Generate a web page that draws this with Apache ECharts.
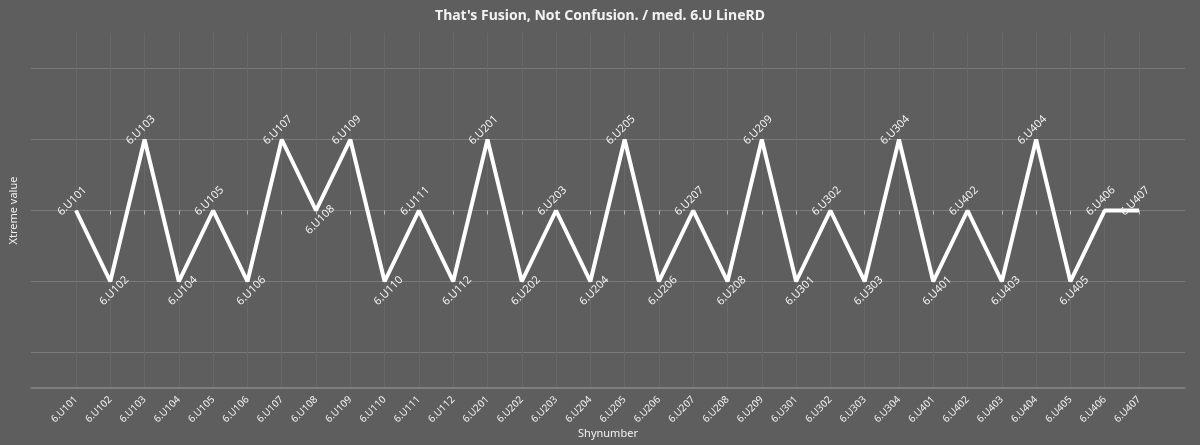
<!DOCTYPE html>
<html><head><meta charset="utf-8">
<script src="https://cdn.jsdelivr.net/npm/echarts@6/dist/echarts.min.js"></script>
<style>html,body{margin:0;background:#5e5e5e}#main{width:1200px;height:445px}</style>
</head><body><div id="main"></div>
<script>
var categories = ['6.U101','6.U102','6.U103','6.U104','6.U105','6.U106','6.U107','6.U108','6.U109','6.U110','6.U111','6.U112',
  '6.U201','6.U202','6.U203','6.U204','6.U205','6.U206','6.U207','6.U208','6.U209',
  '6.U301','6.U302','6.U303','6.U304','6.U401','6.U402','6.U403','6.U404','6.U405','6.U406','6.U407'];
var values = [0,-1,1,-1,0,-1,1,0,1,-1,0,-1, 1,-1,0,-1,1,-1,0,-1,1, -1,0,-1,1, -1,0,-1,1,-1,0,0];
// labels drawn under the point
var below = ['6.U108'];

var chart = echarts.init(document.getElementById('main'));
var txt = '#f2f2f2';
var seriesData = values.map(function (v, i) {
  var down = v === -1 || below.indexOf(categories[i]) >= 0;
  return {
    value: v,
    label: down ? { position: 'bottom', offset: [26, 4] } : { position: 'top', offset: [26, -14] }
  };
});

chart.setOption({
  backgroundColor: '#5e5e5e',
  textStyle: { fontFamily: 'Noto Sans' },
  title: { text: "That's Fusion, Not Confusion. / med. 6.U LineRD", left: 'center', top: 4,
    textStyle: { color: txt, fontSize: 14, fontWeight: 'bold' } },
  grid: [
    { left: 24, right: 15, top: 33, bottom: 57 },
    { left: 76, right: 61, top: 33, bottom: 57 }
  ],
  xAxis: [
    { gridIndex: 0, type: 'value', min: 0, max: 1, show: true,
      axisLine: { onZero: false, lineStyle: { color: '#8a8a8a', width: 1.5 } }, axisTick: { show: false },
      axisLabel: { show: false }, splitLine: { show: false },
      name: 'Shynumber', nameLocation: 'middle', nameGap: 40, nameTextStyle: { color: txt, fontSize: 11 } },
    { gridIndex: 1, type: 'category', data: categories, boundaryGap: false,
      axisLine: { show: false },
      axisTick: { show: true, length: 4, lineStyle: { color: '#bbbbbb' } },
      axisLabel: { rotate: 45, color: txt, fontSize: 10, interval: 0, margin: 10 },
      splitLine: { show: true, lineStyle: { color: '#686868', width: 1 } } }
  ],
  yAxis: [
    { gridIndex: 0, type: 'value', min: -2.5, max: 2.5, interval: 0.5,
      axisLine: { show: false }, axisTick: { show: false }, axisLabel: { show: false },
      splitLine: { show: true, lineStyle: { color: ['transparent', '#7a7a7a'], width: 1 } },
      name: 'Xtreme value', nameLocation: 'middle', nameGap: 12, nameRotate: 90,
      nameTextStyle: { color: txt, fontSize: 11 } },
    { gridIndex: 1, type: 'value', min: -2.5, max: 2.5, show: false }
  ],
  series: [{
    type: 'line', xAxisIndex: 1, yAxisIndex: 1, data: seriesData,
    symbol: 'circle', symbolSize: 1, showSymbol: true, itemStyle: { color: '#ffffff' },
    lineStyle: { color: '#ffffff', width: 4 },
    labelLayout: { hideOverlap: false },
    label: { show: true, formatter: '{b}', rotate: 45, color: txt, fontSize: 11 }
  }]
});
</script></body></html>
